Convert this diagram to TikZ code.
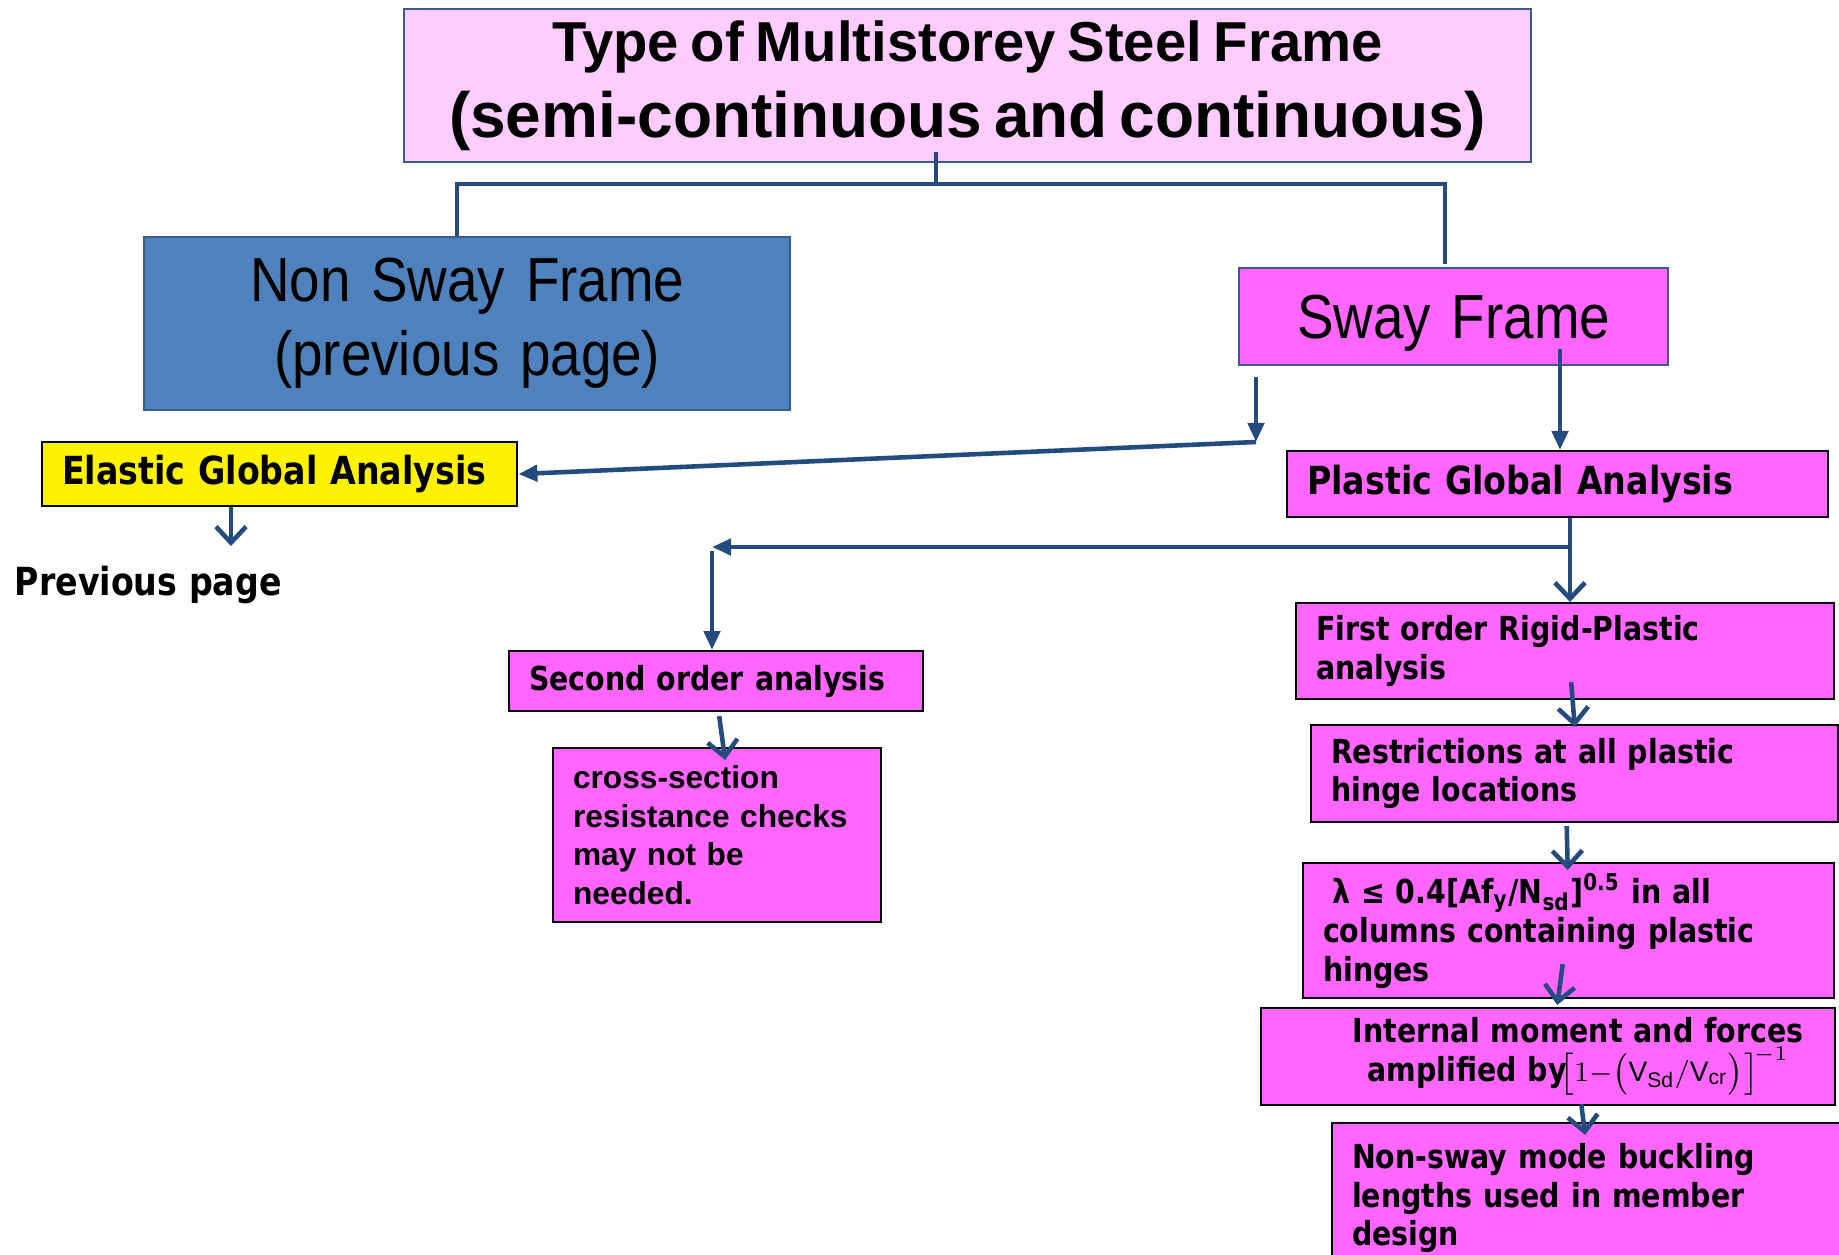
\documentclass[tikz,border=0pt]{standalone}
\usepackage{fontspec}
\setmainfont{Liberation Sans}
\newfontfamily\boxfont{DejaVu Sans}[FakeStretch=0.86]
\newfontfamily\narrowfont{Liberation Sans}[FakeStretch=0.88]
\usetikzlibrary{arrows.meta,calc}
\definecolor{cLink}{HTML}{234B7D}
\definecolor{cTitle}{HTML}{FFCCFF}
\definecolor{cPink}{HTML}{FF66FF}
\definecolor{cBlue}{HTML}{4F81BD}
\definecolor{cEdge}{HTML}{385D8A}
\tikzset{
  flowbox/.style={anchor=north west,draw=black,fill=cPink,line width=0.6pt,
    inner xsep=0.2cm,inner ysep=0pt,align=left,
    font=\boxfont\bfseries\fontsize{9.4}{11}\selectfont},
  framefont/.style={font=\narrowfont\fontsize{17.7}{21}\selectfont},
  flowline/.style={draw=cLink,line width=1.3pt},
  headfill/.style={flowline,-{Triangle[length=1.9mm,width=1.6mm]}},
  headopen/.style={flowline,-{Straight Barb[length=1.6mm,width=3mm]}}
}

\begin{document}
\begin{tikzpicture}[x=0.01cm,y=-0.01cm]
\useasboundingbox (0,0) rectangle (1839,1254);

% top of the tree
\node[flowbox,fill=cTitle,draw=cEdge,align=center,text width=10.86cm,
  minimum height=1.53cm,font=\rmfamily\bfseries] (title) at (403,8)
  {\fontsize{16}{21.8}\selectfont Type of Multistorey Steel Frame\\[0.15cm]
   \fontsize{18.2}{21.8}\selectfont (semi-continuous and continuous)};
\node[flowbox,fill=cBlue,draw=cEdge,align=center,text width=6.06cm,
  minimum height=1.73cm,framefont] (nonsway) at (143,236)
  {Non Sway Frame\\(previous page)};
\node[flowbox,draw=cEdge,align=center,text width=3.89cm,minimum height=0.97cm,
  text depth=0pt,framefont] (sway) at (1238,267) {Sway Frame};

% global analysis
\node[flowbox,fill=yellow,text width=4.35cm,minimum height=0.64cm,
  font=\boxfont\bfseries\fontsize{11}{13}\selectfont] (elastic) at (41,441)
  {Elastic Global Analysis};
\node[anchor=base west,inner sep=0pt,font=\boxfont\bfseries\fontsize{11}{13}\selectfont]
  (prev) at (14,595) {Previous page};
\node[flowbox,text width=5.01cm,minimum height=0.66cm,
  font=\boxfont\bfseries\fontsize{11}{13}\selectfont] (plastic) at (1286,450)
  {Plastic Global Analysis};

% second order branch
\node[flowbox,text width=3.74cm,minimum height=0.60cm] (second) at (508,650)
  {Second order analysis};
\node[flowbox,text width=2.88cm,minimum height=1.74cm,
  font=\rmfamily\bfseries\fontsize{9}{11}\selectfont] (cross) at (552,747)
  {cross-section\\resistance checks\\may not be\\needed.};

% rigid-plastic branch
\node[flowbox,text width=4.98cm,minimum height=0.96cm] (first) at (1295,602)
  {First order Rigid-Plastic\\analysis};
\node[flowbox,text width=4.87cm,minimum height=0.97cm] (restrict) at (1310,724)
  {Restrictions at all plastic\\hinge locations};
\node[flowbox,text width=4.91cm,minimum height=1.35cm] (lambda) at (1302,862)
  {\hspace*{0.09cm}λ ≤ 0.4[Af\textsubscript{y}/N\textsubscript{sd}]\textsuperscript{0.5} in all\\
   columns containing plastic\\hinges};
\node[flowbox,align=center,text width=5.34cm,minimum height=0.97cm] (internal) at (1260,1007)
  {\hspace*{0.6cm}Internal moment and forces\\
   \hspace*{0.6cm}amplified by\hspace{-2pt}{\fontsize{8}{10}\selectfont
   $\bigl[1{-}\bigl(\mathrm{V}_{\mathrm{Sd}}/\mathrm{V}_{\mathrm{cr}}\bigr)\bigr]^{\!-1}$}};
\node[flowbox,text width=4.8cm,minimum height=1.5cm] (nonswaymode) at (1331,1122)
  {Non-sway mode buckling\\lengths used in member\\design};

% trunk from the title
\coordinate (fork) at (936,184);
\coordinate (forkL) at (457,184);
\coordinate (forkR) at (1445,184);
\draw[flowline] ($(title.south -| fork)+(0,-11)$) -- (fork);
\draw[flowline] (forkL |- nonsway.north) -- (forkL) -- (forkR)
  -- ($(forkR |- sway.north)+(0,-3)$);

% sway frame to both analyses
\coordinate (swayL) at (1256,442);
\coordinate (swayR) at (1560,0);
\draw[headfill] ($(swayL |- sway.south)+(0,11)$) -- (swayL);
\draw[headfill] (swayL) -- (elastic.east);
\draw[headfill] ($(swayR |- sway.south)+(0,-17)$) -- (swayR |- plastic.north);

% elastic goes back
\coordinate (ePrev) at (231,546);
\draw[headopen] (ePrev |- elastic.south) -- (ePrev);

% plastic splits
\coordinate (plDown) at (1570,547);
\coordinate (secTop) at (712,547);
\draw[headopen] (plDown |- plastic.south) -- (plDown |- first.north);
\draw[headfill] (plDown) -- (secTop);
\draw[headfill] ($(secTop)+(0,4)$) -- (secTop |- second.north);

% short steps down the chain
\draw[headopen] ($(second.south)+(3,4)$) -- ($(cross.north)+(8,13)$);
\draw[headopen] ($(first.south)+(6,-18)$) -- ($(restrict.north)+(0,3)$);
\draw[headopen] ($(restrict.south)+(-8,3)$) -- ($(lambda.north)+(-1,8)$);
\draw[headopen] ($(lambda.south)+(-6,-35)$) -- ($(internal.north)+(9,-2)$);
\draw[headopen] ($(internal.south)+(33,-2)$) -- ($(nonswaymode.north)+(-7,13)$);
\end{tikzpicture}
\end{document}
